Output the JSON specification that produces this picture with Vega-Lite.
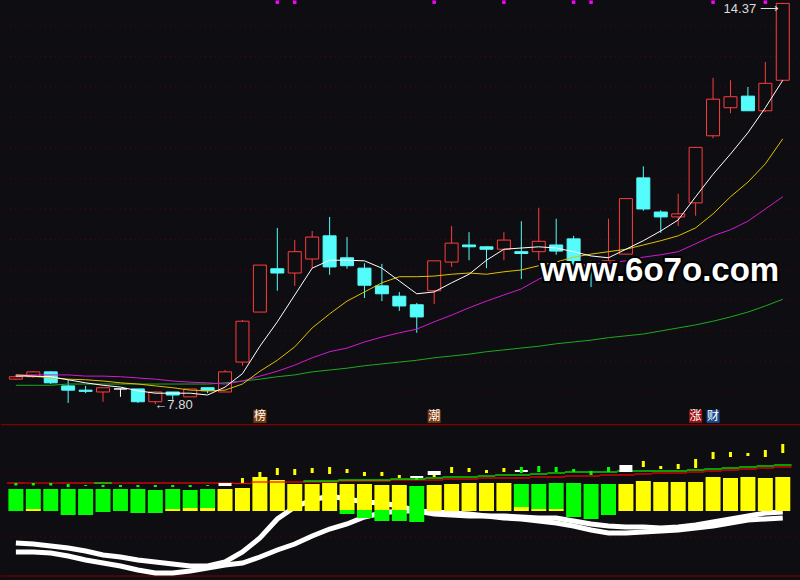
{
  "$schema": "https://vega.github.io/schema/vega-lite/v6.json",
  "background": "#0e0e12",
  "padding": 0,
  "bounds": "flush",
  "spacing": 0,
  "config": {"view": {"stroke": null}, "axis": {"disable": true}, "concat": {"spacing": 0}},
  "resolve": {"scale": {"x": "independent", "y": "independent", "color": "independent"}},
  "datasets": {
    "candles": [
      {"i":0,"o":8.21,"h":8.28,"l":8.20,"c":8.25,"m5":8.26,"m10":8.28,"m20":8.28,"m60":8.11},
      {"i":1,"o":8.25,"h":8.34,"l":8.23,"c":8.33,"m5":8.26,"m10":8.26,"m20":8.28,"m60":8.11},
      {"i":2,"o":8.33,"h":8.34,"l":8.13,"c":8.15,"m5":8.25,"m10":8.23,"m20":8.28,"m60":8.11},
      {"i":3,"o":8.10,"h":8.20,"l":7.82,"c":8.03,"m5":8.20,"m10":8.21,"m20":8.28,"m60":8.13},
      {"i":4,"o":8.03,"h":8.10,"l":7.98,"c":8.01,"m5":8.15,"m10":8.20,"m20":8.26,"m60":8.13},
      {"i":5,"o":8.00,"h":8.07,"l":7.84,"c":8.07,"m5":8.11,"m10":8.18,"m20":8.26,"m60":8.13},
      {"i":6,"o":8.05,"h":8.05,"l":7.92,"c":8.05,"m5":8.08,"m10":8.15,"m20":8.25,"m60":8.13},
      {"i":7,"o":8.05,"h":8.05,"l":7.82,"c":7.84,"m5":8.02,"m10":8.13,"m20":8.23,"m60":8.13},
      {"i":8,"o":7.84,"h":8.01,"l":7.80,"c":8.00,"m5":7.98,"m10":8.10,"m20":8.21,"m60":8.13},
      {"i":9,"o":8.00,"h":8.00,"l":7.87,"c":7.95,"m5":7.98,"m10":8.07,"m20":8.18,"m60":8.13},
      {"i":10,"o":7.92,"h":8.05,"l":7.92,"c":8.05,"m5":7.98,"m10":8.03,"m20":8.16,"m60":8.13},
      {"i":11,"o":8.07,"h":8.07,"l":7.98,"c":8.02,"m5":7.95,"m10":8.02,"m20":8.15,"m60":8.13},
      {"i":12,"o":8.00,"h":8.36,"l":8.00,"c":8.33,"m5":8.08,"m10":8.03,"m20":8.13,"m60":8.15},
      {"i":13,"o":8.49,"h":9.18,"l":8.43,"c":9.16,"m5":8.30,"m10":8.13,"m20":8.18,"m60":8.18},
      {"i":14,"o":9.31,"h":10.08,"l":9.31,"c":10.08,"m5":8.75,"m10":8.34,"m20":8.26,"m60":8.21},
      {"i":15,"o":10.02,"h":10.69,"l":9.66,"c":9.95,"m5":9.15,"m10":8.52,"m20":8.34,"m60":8.25},
      {"i":16,"o":9.95,"h":10.49,"l":9.74,"c":10.30,"m5":9.59,"m10":8.74,"m20":8.44,"m60":8.28},
      {"i":17,"o":10.18,"h":10.64,"l":10.03,"c":10.54,"m5":10.03,"m10":9.05,"m20":8.56,"m60":8.33},
      {"i":18,"o":10.56,"h":10.87,"l":9.92,"c":10.05,"m5":10.16,"m10":9.28,"m20":8.66,"m60":8.36},
      {"i":19,"o":10.20,"h":10.54,"l":10.02,"c":10.07,"m5":10.16,"m10":9.49,"m20":8.72,"m60":8.39},
      {"i":20,"o":10.03,"h":10.11,"l":9.54,"c":9.75,"m5":10.15,"m10":9.64,"m20":8.82,"m60":8.43},
      {"i":21,"o":9.74,"h":10.10,"l":9.49,"c":9.61,"m5":10.03,"m10":9.79,"m20":8.90,"m60":8.46},
      {"i":22,"o":9.57,"h":9.64,"l":9.33,"c":9.41,"m5":9.82,"m10":9.89,"m20":8.97,"m60":8.49},
      {"i":23,"o":9.43,"h":9.46,"l":8.97,"c":9.23,"m5":9.61,"m10":9.89,"m20":9.03,"m60":8.52},
      {"i":24,"o":9.66,"h":10.15,"l":9.44,"c":10.15,"m5":9.64,"m10":9.90,"m20":9.15,"m60":8.56},
      {"i":25,"o":10.13,"h":10.72,"l":10.05,"c":10.44,"m5":9.79,"m10":9.93,"m20":9.26,"m60":8.59},
      {"i":26,"o":10.41,"h":10.62,"l":10.16,"c":10.38,"m5":9.93,"m10":9.95,"m20":9.38,"m60":8.62},
      {"i":27,"o":10.38,"h":10.39,"l":10.03,"c":10.34,"m5":10.16,"m10":9.93,"m20":9.49,"m60":8.66},
      {"i":28,"o":10.34,"h":10.62,"l":10.16,"c":10.49,"m5":10.34,"m10":9.97,"m20":9.59,"m60":8.69},
      {"i":29,"o":10.30,"h":10.80,"l":9.85,"c":10.27,"m5":10.36,"m10":10.00,"m20":9.69,"m60":8.72},
      {"i":30,"o":10.30,"h":11.02,"l":10.16,"c":10.47,"m5":10.38,"m10":10.07,"m20":9.85,"m60":8.75},
      {"i":31,"o":10.41,"h":10.84,"l":10.25,"c":10.31,"m5":10.36,"m10":10.13,"m20":9.97,"m60":8.79},
      {"i":32,"o":10.51,"h":10.56,"l":10.02,"c":10.10,"m5":10.30,"m10":10.21,"m20":10.07,"m60":8.82},
      {"i":33,"o":10.07,"h":10.15,"l":9.72,"c":10.00,"m5":10.23,"m10":10.26,"m20":10.10,"m60":8.85},
      {"i":34,"o":10.05,"h":10.84,"l":10.05,"c":10.15,"m5":10.20,"m10":10.30,"m20":10.11,"m60":8.89},
      {"i":35,"o":10.26,"h":11.17,"l":10.26,"c":11.17,"m5":10.34,"m10":10.34,"m20":10.15,"m60":8.92},
      {"i":36,"o":11.51,"h":11.70,"l":10.97,"c":11.00,"m5":10.48,"m10":10.41,"m20":10.21,"m60":8.95},
      {"i":37,"o":10.95,"h":10.98,"l":10.61,"c":10.87,"m5":10.64,"m10":10.48,"m20":10.25,"m60":9.00},
      {"i":38,"o":10.87,"h":11.25,"l":10.72,"c":10.92,"m5":10.82,"m10":10.56,"m20":10.30,"m60":9.05},
      {"i":39,"o":11.10,"h":12.01,"l":10.89,"c":12.01,"m5":11.20,"m10":10.69,"m20":10.43,"m60":9.10},
      {"i":40,"o":12.20,"h":13.15,"l":12.16,"c":12.80,"m5":11.57,"m10":10.92,"m20":10.56,"m60":9.16},
      {"i":41,"o":12.66,"h":13.11,"l":12.57,"c":12.84,"m5":11.90,"m10":11.20,"m20":10.66,"m60":9.23},
      {"i":42,"o":12.85,"h":13.00,"l":12.61,"c":12.61,"m5":12.25,"m10":11.44,"m20":10.80,"m60":9.31},
      {"i":43,"o":12.61,"h":13.41,"l":12.59,"c":13.06,"m5":12.66,"m10":11.74,"m20":11.00,"m60":9.41},
      {"i":44,"o":13.11,"h":14.37,"l":13.11,"c":14.37,"m5":13.11,"m10":12.15,"m20":11.20,"m60":9.52}
    ],
    "hg": [{"p":8},{"p":8.5},{"p":9},{"p":9.5},{"p":10},{"p":10.5},{"p":11},{"p":11.5},{"p":12},{"p":12.5},{"p":13},{"p":13.5},{"p":14}],
    "tops": [{"i":15},{"i":16},{"i":24},{"i":28},{"i":32},{"i":33},{"i":40},{"i":43}],
    "sig": [{"i":14,"t":"榜","k":"b"},{"i":24,"t":"潮","k":"b"},{"i":39,"t":"涨","k":"r"},{"i":40,"t":"财","k":"u"}],
    "bg": [{"v":39},{"v":7},{"v":-26}],
    "sep": [{"v":86.3},{"v":-65}],
    "ind": [
      {"i":0,"r":28,"g":null,"c1":-32,"c2":-41},
      {"i":1,"r":28,"g":null,"c1":-33,"c2":-41},
      {"i":2,"r":28,"g":null,"c1":-35,"c2":-42},
      {"i":3,"r":28,"g":null,"c1":-37,"c2":-45},
      {"i":4,"r":28,"g":null,"c1":-40,"c2":-49},
      {"i":5,"r":28,"g":28,"c1":-44,"c2":-52},
      {"i":6,"r":28,"g":null,"c1":-46,"c2":-55},
      {"i":7,"r":28,"g":null,"c1":-49,"c2":-59},
      {"i":8,"r":28,"g":null,"c1":-51,"c2":-62},
      {"i":9,"r":28,"g":null,"c1":-53,"c2":-62},
      {"i":10,"r":28,"g":null,"c1":-55,"c2":-60},
      {"i":11,"r":28,"g":null,"c1":-55,"c2":-57},
      {"i":12,"r":28,"g":null,"c1":-51,"c2":-54},
      {"i":13,"r":27.5,"g":null,"c1":-41,"c2":-52},
      {"i":14,"r":29,"g":null,"c1":-27,"c2":-46},
      {"i":15,"r":29,"g":null,"c1":-8,"c2":-39},
      {"i":16,"r":29,"g":null,"c1":4,"c2":-33},
      {"i":17,"r":29,"g":30,"c1":11,"c2":-25},
      {"i":18,"r":29,"g":30,"c1":15,"c2":-18},
      {"i":19,"r":30,"g":31,"c1":12,"c2":-13},
      {"i":20,"r":30,"g":31,"c1":9,"c2":-6},
      {"i":21,"r":30,"g":31,"c1":8,"c2":-2},
      {"i":22,"r":31,"g":32,"c1":5,"c2":0},
      {"i":23,"r":31,"g":32,"c1":0,"c2":0},
      {"i":24,"r":31,"g":33,"c1":-3,"c2":-1},
      {"i":25,"r":32,"g":34,"c1":-4,"c2":-2},
      {"i":26,"r":32,"g":34,"c1":-5,"c2":-3},
      {"i":27,"r":33,"g":35,"c1":-5,"c2":-5},
      {"i":28,"r":33,"g":36,"c1":-5,"c2":-7},
      {"i":29,"r":33,"g":36,"c1":-6,"c2":-8},
      {"i":30,"r":34,"g":37,"c1":-7,"c2":-10},
      {"i":31,"r":34,"g":38,"c1":-7,"c2":-12},
      {"i":32,"r":35,"g":39,"c1":-10,"c2":-15},
      {"i":33,"r":35,"g":39,"c1":-13,"c2":-19},
      {"i":34,"r":36,"g":39,"c1":-15,"c2":-22},
      {"i":35,"r":36,"g":40,"c1":-16,"c2":-22},
      {"i":36,"r":37,"g":40,"c1":-16,"c2":-21},
      {"i":37,"r":38,"g":40,"c1":-17,"c2":-20},
      {"i":38,"r":38,"g":40,"c1":-16,"c2":-19},
      {"i":39,"r":39,"g":41,"c1":-14,"c2":-17},
      {"i":40,"r":40,"g":42,"c1":-11,"c2":-15},
      {"i":41,"r":41,"g":43,"c1":-8,"c2":-12},
      {"i":42,"r":42,"g":44,"c1":-5,"c2":-9},
      {"i":43,"r":43,"g":45,"c1":-2,"c2":-8},
      {"i":44,"r":44,"g":46,"c1":-1,"c2":-7}
    ],
    "bars": [
      {"i":0,"t":22,"b":0,"k":"G"},
      {"i":1,"t":22,"b":2,"k":"G"},{"i":1,"t":2,"b":0,"k":"Y"},
      {"i":2,"t":22,"b":0,"k":"G"},
      {"i":3,"t":22,"b":-4,"k":"G"},
      {"i":4,"t":22,"b":-4,"k":"G"},
      {"i":5,"t":22,"b":-1,"k":"G"},
      {"i":6,"t":22,"b":0,"k":"G"},
      {"i":7,"t":22,"b":-2,"k":"G"},
      {"i":8,"t":21,"b":-2,"k":"G"},
      {"i":9,"t":22,"b":2,"k":"G"},{"i":9,"t":2,"b":0,"k":"Y"},
      {"i":10,"t":21,"b":3,"k":"G"},{"i":10,"t":3,"b":0,"k":"Y"},
      {"i":11,"t":22,"b":3,"k":"G"},{"i":11,"t":3,"b":0,"k":"Y"},
      {"i":12,"t":22,"b":0,"k":"Y"},
      {"i":13,"t":23,"b":0,"k":"Y"},
      {"i":14,"t":34,"b":0,"k":"Y"},
      {"i":15,"t":31,"b":0,"k":"Y"},
      {"i":16,"t":27,"b":0,"k":"Y"},
      {"i":17,"t":27,"b":0,"k":"Y"},
      {"i":18,"t":28,"b":0,"k":"Y"},
      {"i":19,"t":27,"b":1,"k":"Y"},{"i":19,"t":1,"b":-3,"k":"G"},
      {"i":20,"t":27,"b":1,"k":"Y"},{"i":20,"t":1,"b":-7,"k":"G"},
      {"i":21,"t":26,"b":1,"k":"Y"},{"i":21,"t":1,"b":-10,"k":"G"},
      {"i":22,"t":26,"b":1,"k":"Y"},{"i":22,"t":1,"b":-10,"k":"G"},
      {"i":23,"t":25,"b":-11,"k":"G"},
      {"i":24,"t":26,"b":0,"k":"Y"},
      {"i":25,"t":27,"b":0,"k":"Y"},
      {"i":26,"t":28,"b":0,"k":"Y"},
      {"i":27,"t":28,"b":0,"k":"Y"},
      {"i":28,"t":28,"b":0,"k":"Y"},
      {"i":29,"t":27,"b":4,"k":"G"},{"i":29,"t":4,"b":0,"k":"Y"},
      {"i":30,"t":27,"b":2,"k":"G"},{"i":30,"t":2,"b":0,"k":"Y"},
      {"i":31,"t":28,"b":2,"k":"G"},{"i":31,"t":2,"b":0,"k":"Y"},
      {"i":32,"t":28,"b":-6,"k":"G"},
      {"i":33,"t":27,"b":-8,"k":"G"},
      {"i":34,"t":27,"b":-4,"k":"G"},
      {"i":35,"t":27,"b":0,"k":"Y"},
      {"i":36,"t":30,"b":0,"k":"Y"},
      {"i":37,"t":29,"b":0,"k":"Y"},
      {"i":38,"t":29,"b":0,"k":"Y"},
      {"i":39,"t":29,"b":0,"k":"Y"},
      {"i":40,"t":34,"b":0,"k":"Y"},
      {"i":41,"t":33,"b":0,"k":"Y"},
      {"i":42,"t":34,"b":0,"k":"Y"},
      {"i":43,"t":33,"b":0,"k":"Y"},
      {"i":44,"t":34,"b":0,"k":"Y"}
    ],
    "marks": [
      {"i":0,"t":28,"b":25.5,"k":"G"},
      {"i":1,"t":28,"b":25.5,"k":"G"},
      {"i":2,"t":28,"b":25.5,"k":"G"},
      {"i":3,"t":27,"b":24,"k":"G"},
      {"i":4,"t":26,"b":25,"k":"G"},
      {"i":5,"t":26,"b":24,"k":"G"},
      {"i":6,"t":26,"b":24,"k":"G"},
      {"i":7,"t":26,"b":24,"k":"G"},
      {"i":8,"t":26,"b":24,"k":"G"},
      {"i":9,"t":26,"b":24,"k":"G"},
      {"i":10,"t":26,"b":24,"k":"G"},
      {"i":11,"t":26,"b":25,"k":"G"},
      {"i":12,"t":28,"b":25,"k":"W"},
      {"i":13,"t":33,"b":28,"k":"Y"},
      {"i":14,"t":39,"b":34,"k":"Y"},
      {"i":15,"t":43,"b":36,"k":"Y"},
      {"i":16,"t":42,"b":36,"k":"Y"},
      {"i":17,"t":43,"b":38,"k":"Y"},
      {"i":18,"t":44,"b":37,"k":"Y"},
      {"i":19,"t":42,"b":38,"k":"Y"},
      {"i":20,"t":39,"b":35,"k":"Y"},
      {"i":21,"t":39,"b":35,"k":"Y"},
      {"i":22,"t":36,"b":33,"k":"Y"},
      {"i":23,"t":35,"b":33,"k":"W"},{"i":23,"t":33,"b":31,"k":"G"},
      {"i":24,"t":40,"b":36,"k":"W"},{"i":24,"t":36,"b":34,"k":"Y"},
      {"i":25,"t":44,"b":38,"k":"Y"},
      {"i":26,"t":43,"b":39,"k":"Y"},
      {"i":27,"t":41,"b":38,"k":"Y"},
      {"i":28,"t":43,"b":39,"k":"Y"},
      {"i":29,"t":41,"b":39,"k":"W"},{"i":29,"t":44,"b":38,"k":"G"},
      {"i":30,"t":45,"b":39,"k":"G"},
      {"i":31,"t":44,"b":39,"k":"G"},
      {"i":32,"t":42,"b":39,"k":"G"},
      {"i":33,"t":40,"b":36,"k":"G"},
      {"i":34,"t":44,"b":39,"k":"G"},
      {"i":35,"t":46,"b":39,"k":"W"},
      {"i":36,"t":50,"b":44,"k":"Y"},
      {"i":37,"t":45,"b":42,"k":"Y"},
      {"i":38,"t":47,"b":42,"k":"Y"},
      {"i":39,"t":52,"b":43,"k":"Y"},
      {"i":40,"t":59,"b":52,"k":"Y"},
      {"i":41,"t":59,"b":54,"k":"Y"},
      {"i":42,"t":58,"b":55,"k":"Y"},
      {"i":43,"t":61,"b":54,"k":"Y"},
      {"i":44,"t":67,"b":58,"k":"Y"}
    ]
  },
  "vconcat": [
    {
      "width": 800,
      "height": 424,
      "layer": [
        {
          "data": {"name": "hg"},
          "mark": {"type": "rule", "color": "#5c0000", "strokeWidth": 1, "strokeDash": [1, 4]},
          "encoding": {"y": {"field": "p", "type": "quantitative", "scale": {"domain": [7.475, 14.426], "nice": false, "zero": false}}}
        },
        {
          "data": {"name": "candles"},
          "mark": {"type": "rule", "strokeWidth": 1},
          "encoding": {
            "x": {"field": "i", "type": "quantitative", "scale": {"domain": [-0.567, 44.759], "nice": false, "zero": false}},
            "y": {"field": "l", "type": "quantitative", "scale": {"domain": [7.475, 14.426], "nice": false, "zero": false}},
            "y2": {"field": "h"},
            "color": {"condition": [{"test": "datum.c > datum.o", "value": "#ff3c3c"}, {"test": "datum.c < datum.o", "value": "#54fcfc"}], "value": "#ffffff"}
          }
        },
        {
          "data": {"name": "candles"},
          "mark": {"type": "bar", "size": 13, "strokeWidth": 1},
          "encoding": {
            "x": {"field": "i", "type": "quantitative", "scale": {"domain": [-0.567, 44.759], "nice": false, "zero": false}},
            "y": {"field": "o", "type": "quantitative", "scale": {"domain": [7.475, 14.426], "nice": false, "zero": false}},
            "y2": {"field": "c"},
            "fill": {"condition": [{"test": "datum.c > datum.o", "value": "#0e0e12"}, {"test": "datum.c < datum.o", "value": "#54fcfc"}], "value": "#ffffff"},
            "stroke": {"condition": [{"test": "datum.c > datum.o", "value": "#ff3c3c"}, {"test": "datum.c < datum.o", "value": "#54fcfc"}], "value": "#ffffff"}
          }
        },
        {
          "data": {"name": "candles"},
          "mark": {"type": "line", "color": "#1fa81f", "strokeWidth": 1},
          "encoding": {
            "x": {"field": "i", "type": "quantitative", "scale": {"domain": [-0.567, 44.759], "nice": false, "zero": false}},
            "y": {"field": "m60", "type": "quantitative", "scale": {"domain": [7.475, 14.426], "nice": false, "zero": false}}
          }
        },
        {
          "data": {"name": "candles"},
          "mark": {"type": "line", "color": "#d21ad2", "strokeWidth": 1},
          "encoding": {
            "x": {"field": "i", "type": "quantitative", "scale": {"domain": [-0.567, 44.759], "nice": false, "zero": false}},
            "y": {"field": "m20", "type": "quantitative", "scale": {"domain": [7.475, 14.426], "nice": false, "zero": false}}
          }
        },
        {
          "data": {"name": "candles"},
          "mark": {"type": "line", "color": "#e0c000", "strokeWidth": 1},
          "encoding": {
            "x": {"field": "i", "type": "quantitative", "scale": {"domain": [-0.567, 44.759], "nice": false, "zero": false}},
            "y": {"field": "m10", "type": "quantitative", "scale": {"domain": [7.475, 14.426], "nice": false, "zero": false}}
          }
        },
        {
          "data": {"name": "candles"},
          "mark": {"type": "line", "color": "#ffffff", "strokeWidth": 1},
          "encoding": {
            "x": {"field": "i", "type": "quantitative", "scale": {"domain": [-0.567, 44.759], "nice": false, "zero": false}},
            "y": {"field": "m5", "type": "quantitative", "scale": {"domain": [7.475, 14.426], "nice": false, "zero": false}}
          }
        },
        {
          "data": {"name": "tops"},
          "mark": {"type": "point", "shape": "square", "filled": true, "size": 12, "color": "#ff00ff", "opacity": 1},
          "encoding": {
            "x": {"field": "i", "type": "quantitative", "scale": {"domain": [-0.567, 44.759], "nice": false, "zero": false}},
            "y": {"datum": 14.39, "type": "quantitative", "scale": {"domain": [7.475, 14.426], "nice": false, "zero": false}}
          }
        },
        {
          "data": {"name": "sig"},
          "mark": {"type": "point", "shape": "square", "filled": true, "size": 169, "opacity": 1},
          "encoding": {
            "x": {"field": "i", "type": "quantitative", "scale": {"domain": [-0.567, 44.759], "nice": false, "zero": false}},
            "y": {"datum": 7.60, "type": "quantitative", "scale": {"domain": [7.475, 14.426], "nice": false, "zero": false}},
            "color": {"field": "k", "type": "nominal", "scale": {"domain": ["b", "r", "u"], "range": ["#7a3a0c", "#9c1010", "#1c4a8c"]}, "legend": null}
          }
        },
        {
          "data": {"name": "sig"},
          "mark": {"type": "text", "font": "Noto Sans CJK SC", "fontSize": 12, "color": "#ffffff", "baseline": "middle", "align": "center"},
          "encoding": {
            "x": {"field": "i", "type": "quantitative", "scale": {"domain": [-0.567, 44.759], "nice": false, "zero": false}},
            "y": {"datum": 7.60, "type": "quantitative", "scale": {"domain": [7.475, 14.426], "nice": false, "zero": false}},
            "text": {"field": "t"}
          }
        },
        {
          "data": {"values": [{}]},
          "mark": {"type": "text", "font": "Liberation Sans", "fontSize": 13, "color": "#dcdcdc", "align": "right", "baseline": "middle", "dx": -4, "dy": 6, "text": "14.37 ⟶"},
          "encoding": {
            "x": {"datum": 44, "type": "quantitative", "scale": {"domain": [-0.567, 44.759], "nice": false, "zero": false}},
            "y": {"datum": 14.37, "type": "quantitative", "scale": {"domain": [7.475, 14.426], "nice": false, "zero": false}}
          }
        },
        {
          "data": {"values": [{}]},
          "mark": {"type": "text", "font": "Liberation Sans", "fontSize": 13, "color": "#dcdcdc", "align": "left", "baseline": "middle", "dx": -1, "dy": 1, "text": "←7.80"},
          "encoding": {
            "x": {"datum": 8, "type": "quantitative", "scale": {"domain": [-0.567, 44.759], "nice": false, "zero": false}},
            "y": {"datum": 7.80, "type": "quantitative", "scale": {"domain": [7.475, 14.426], "nice": false, "zero": false}}
          }
        },
        {
          "data": {"values": [{}]},
          "mark": {"type": "text", "font": "Liberation Sans", "fontWeight": "bold", "fontSize": 33, "fill": "#000000", "stroke": "#000000", "strokeWidth": 4, "align": "left", "baseline": "alphabetic", "text": "www.6o7o.com"},
          "encoding": {
            "x": {"datum": 30.08, "type": "quantitative", "scale": {"domain": [-0.567, 44.759], "nice": false, "zero": false}},
            "y": {"datum": 9.82, "type": "quantitative", "scale": {"domain": [7.475, 14.426], "nice": false, "zero": false}}
          }
        },
        {
          "data": {"values": [{}]},
          "mark": {"type": "text", "font": "Liberation Sans", "fontWeight": "bold", "fontSize": 33, "color": "#ffffff", "align": "left", "baseline": "alphabetic", "text": "www.6o7o.com"},
          "encoding": {
            "x": {"datum": 30.08, "type": "quantitative", "scale": {"domain": [-0.567, 44.759], "nice": false, "zero": false}},
            "y": {"datum": 9.82, "type": "quantitative", "scale": {"domain": [7.475, 14.426], "nice": false, "zero": false}}
          }
        }
      ]
    },
    {
      "width": 800,
      "height": 156,
      "layer": [
        {
          "data": {"name": "bg"},
          "mark": {"type": "rule", "color": "#5c0000", "strokeWidth": 1, "strokeDash": [1, 4]},
          "encoding": {"y": {"field": "v", "type": "quantitative", "scale": {"domain": [-69, 87], "nice": false, "zero": false}}}
        },
        {
          "data": {"name": "sep"},
          "mark": {"type": "rule", "color": "#800000", "strokeWidth": 1.2},
          "encoding": {"y": {"field": "v", "type": "quantitative", "scale": {"domain": [-69, 87], "nice": false, "zero": false}}}
        },
        {
          "data": {"name": "ind"},
          "mark": {"type": "line", "color": "#ffffff", "strokeWidth": 5},
          "encoding": {
            "x": {"field": "i", "type": "quantitative", "scale": {"domain": [-0.567, 44.759], "nice": false, "zero": false}},
            "y": {"field": "c2", "type": "quantitative", "scale": {"domain": [-69, 87], "nice": false, "zero": false}}
          }
        },
        {
          "data": {"name": "ind"},
          "mark": {"type": "line", "color": "#ffffff", "strokeWidth": 5},
          "encoding": {
            "x": {"field": "i", "type": "quantitative", "scale": {"domain": [-0.567, 44.759], "nice": false, "zero": false}},
            "y": {"field": "c1", "type": "quantitative", "scale": {"domain": [-69, 87], "nice": false, "zero": false}}
          }
        },
        {
          "data": {"name": "bars"},
          "mark": {"type": "bar", "size": 15},
          "encoding": {
            "x": {"field": "i", "type": "quantitative", "scale": {"domain": [-0.567, 44.759], "nice": false, "zero": false}},
            "y": {"field": "t", "type": "quantitative", "scale": {"domain": [-69, 87], "nice": false, "zero": false}},
            "y2": {"field": "b"},
            "color": {"field": "k", "type": "nominal", "scale": {"domain": ["G", "Y", "W"], "range": ["#00ff00", "#ffff00", "#ffffff"]}, "legend": null}
          }
        },
        {
          "data": {"name": "ind"},
          "mark": {"type": "tick", "orient": "horizontal", "size": 17.65, "thickness": 1.2, "color": "#ff0000", "opacity": 1},
          "encoding": {
            "x": {"field": "i", "type": "quantitative", "scale": {"domain": [-0.567, 44.759], "nice": false, "zero": false}},
            "y": {"field": "r", "type": "quantitative", "scale": {"domain": [-69, 87], "nice": false, "zero": false}}
          }
        },
        {
          "data": {"name": "ind"},
          "mark": {"type": "tick", "orient": "horizontal", "size": 17.65, "thickness": 1.2, "color": "#00ff00", "opacity": 1},
          "encoding": {
            "x": {"field": "i", "type": "quantitative", "scale": {"domain": [-0.567, 44.759], "nice": false, "zero": false}},
            "y": {"field": "g", "type": "quantitative", "scale": {"domain": [-69, 87], "nice": false, "zero": false}}
          }
        },
        {
          "data": {"name": "marks"},
          "transform": [{"filter": "datum.k == 'W'"}],
          "mark": {"type": "bar", "size": 13, "color": "#ffffff"},
          "encoding": {
            "x": {"field": "i", "type": "quantitative", "scale": {"domain": [-0.567, 44.759], "nice": false, "zero": false}},
            "y": {"field": "t", "type": "quantitative", "scale": {"domain": [-69, 87], "nice": false, "zero": false}},
            "y2": {"field": "b"}
          }
        },
        {
          "data": {"name": "marks"},
          "transform": [{"filter": "datum.k != 'W'"}],
          "mark": {"type": "bar", "size": 3},
          "encoding": {
            "x": {"field": "i", "type": "quantitative", "scale": {"domain": [-0.567, 44.759], "nice": false, "zero": false}},
            "y": {"field": "t", "type": "quantitative", "scale": {"domain": [-69, 87], "nice": false, "zero": false}},
            "y2": {"field": "b"},
            "color": {"field": "k", "type": "nominal", "scale": {"domain": ["G", "Y", "W"], "range": ["#00ff00", "#ffff00", "#ffffff"]}, "legend": null}
          }
        }
      ]
    }
  ]
}
